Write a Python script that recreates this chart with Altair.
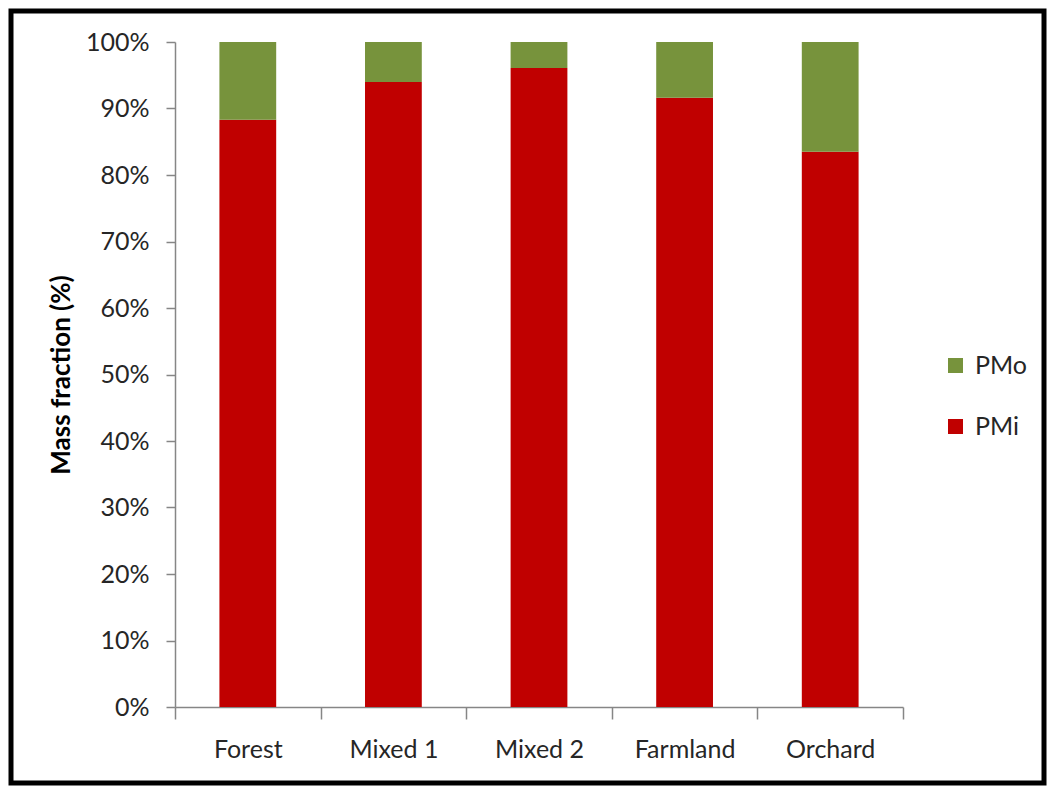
import altair as alt
import pandas as pd

categories = ["Forest", "Mixed 1", "Mixed 2", "Farmland", "Orchard"]
pmi = [88.3, 94.0, 96.1, 91.6, 83.5]
pmo = [11.7, 6.0, 3.9, 8.4, 16.5]
series = ["PMo", "PMi"]
colors = ["#77933C", "#C00000"]
y_ticks = [0, 10, 20, 30, 40, 50, 60, 70, 80, 90, 100]

rows = []
for c, a, b in zip(categories, pmi, pmo):
    rows.append({"cat": c, "series": "PMi", "value": a, "ord": 0})
    rows.append({"cat": c, "series": "PMo", "value": b, "ord": 1})
df = pd.DataFrame(rows)

FONT = "Lato"
FS = 25
W, H = 728, 665
PL, PT, PR, PB = 167, 34, 144, 79

bars = alt.Chart(df).mark_bar(width=alt.RelativeBandSize(0.39)).encode(
    x=alt.X("cat:N", sort=categories, title=None,
            scale=alt.Scale(paddingInner=0, paddingOuter=0),
            axis=alt.Axis(labelAngle=0, tickBand="extent", tickSize=12,
                          labelPadding=18, labelFontSize=FS, labelFont=FONT,
                          labelColor="#262626", domainColor="#868686",
                          tickColor="#868686", domainWidth=1.5, tickWidth=1.5)),
    y=alt.Y("value:Q", stack="zero",
            scale=alt.Scale(domain=[0, 100], nice=False),
            title="Mass fraction (%)",
            axis=alt.Axis(values=y_ticks, labelExpr="datum.value + '%'",
                          tickSize=9, labelPadding=17, labelFontSize=FS,
                          labelFont=FONT, labelColor="#262626",
                          titleFont=FONT, titleFontSize=26, titleFontWeight="bold",
                          titleColor="#000000", titlePadding=11,
                          domainColor="#868686", tickColor="#868686",
                          domainWidth=1.5, tickWidth=1.5, grid=False)),
    color=alt.Color("series:N",
                    scale=alt.Scale(domain=series, range=colors),
                    legend=alt.Legend(title=None, orient="none", legendX=768, legendY=311,
                                      symbolType="square", symbolSize=225,
                                      symbolStrokeWidth=0, labelFontSize=FS,
                                      labelFont=FONT, labelColor="#262626",
                                      labelOffset=7, rowPadding=35)),
    order=alt.Order("ord:Q"),
)

frame = alt.Chart(pd.DataFrame({"f": [0]})).mark_rect(
    fill="transparent", stroke="#000000", strokeWidth=5
).encode(
    x=alt.value(-PL + 3), x2=alt.value(W + PR - 3),
    y=alt.value(-PT + 3), y2=alt.value(H + PB - 3),
)

chart = alt.layer(bars, frame).properties(
    width=W, height=H,
    autosize=alt.AutoSizeParams(type="none"),
    padding={"left": PL, "top": PT, "right": PR, "bottom": PB},
    background="#ffffff",
).configure_view(stroke=None)

chart.save("out.html", embed_options={"renderer": "svg", "actions": False})
